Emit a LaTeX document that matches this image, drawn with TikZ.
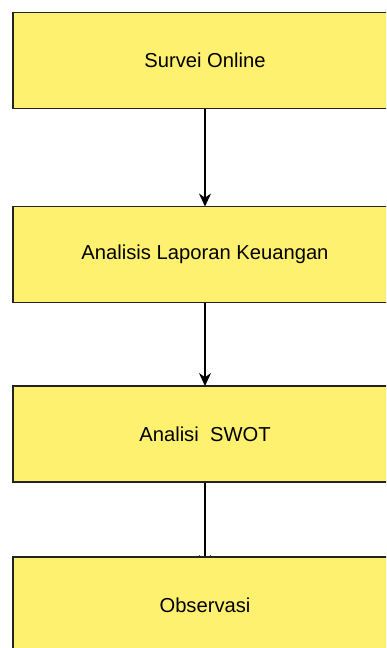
\documentclass[tikz,border=0pt]{standalone}
\usepackage{fontspec}
\setmainfont{Liberation Sans}
\usetikzlibrary{positioning, arrows.meta, backgrounds}
\definecolor{boxyellow}{RGB}{255,241,112}
\definecolor{boxline}{RGB}{35,35,35}

\begin{document}
\begin{tikzpicture}[x=1pt, y=-1pt,
        stepbox/.style={draw=boxline, line width=1.2pt, fill=boxyellow,
            minimum width=384pt, minimum height=96pt, inner sep=0pt, outer sep=0pt,
            font=\fontsize{20.2}{24}\selectfont},
        flow/.style={-{Stealth[length=13pt, width=12pt]}, line width=1.2pt}]
    \useasboundingbox (0,0) rectangle (386,648);
    \clip (0,0) rectangle (386,648);

    % Boxes:
    \node[stepbox] (survei) at (205,60.5) {Survei Online};
    \node[stepbox, below=98pt of survei] (laporan) {Analisis Laporan Keuangan};
    \node[stepbox, below=83.5pt of laporan] (swot) {Analisi\ \ SWOT};
    \node[stepbox, below=75pt of swot] (observasi) {Observasi};

    % Arrows:
    \draw[flow] (survei) -- (laporan);
    \draw[flow] (laporan) -- (swot);
    \begin{scope}[on background layer]
        \draw[flow, shorten >=-11pt] (swot) -- (observasi);
    \end{scope}
\end{tikzpicture}
\end{document}
